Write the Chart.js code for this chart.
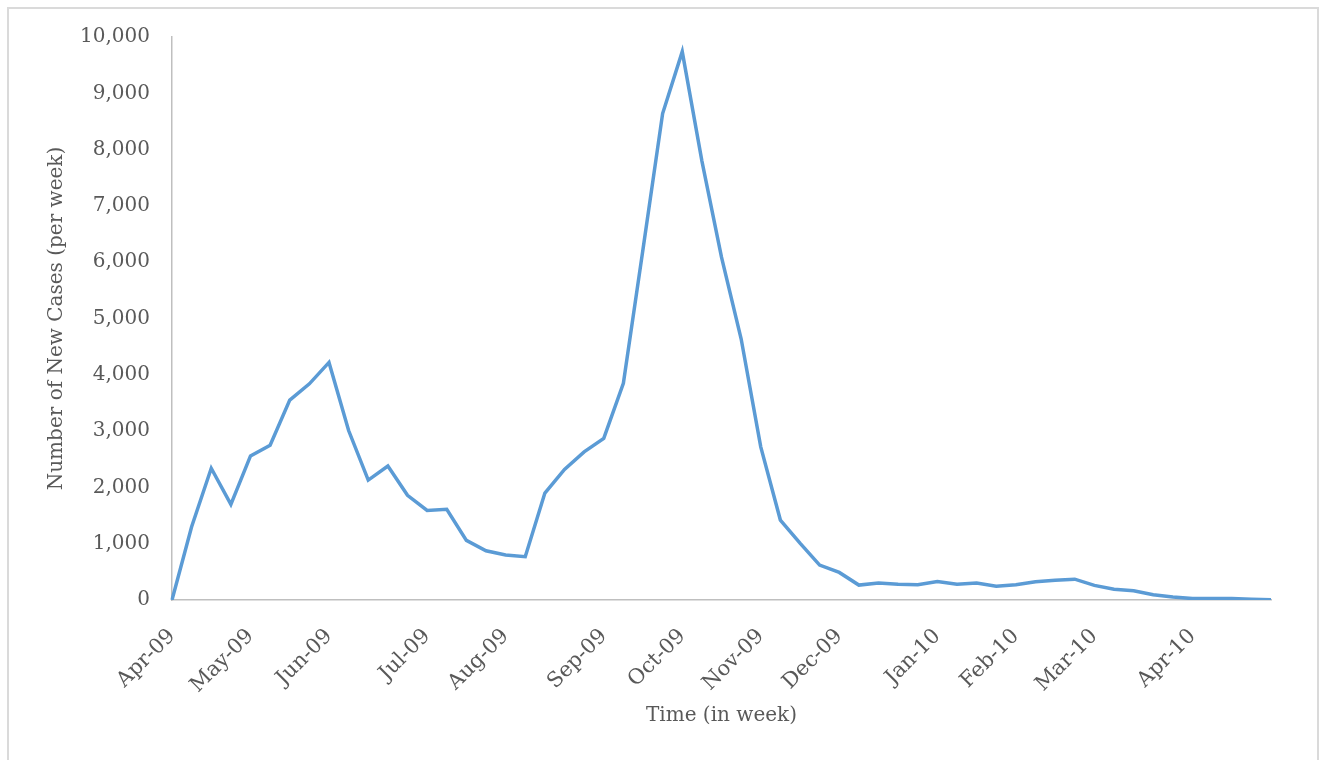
<!DOCTYPE html>
<html>
<head>
<meta charset="utf-8">
<script src="https://cdn.jsdelivr.net/npm/chart.js@4.4.1/dist/chart.umd.min.js"></script>
<style>
    html, body { margin: 0; padding: 0; background: #fff; overflow: hidden; }
    #frame {
        position: absolute; left: 7px; top: 7px;
        width: 1312px; height: 800px;
        box-sizing: border-box;
        border: 2px solid #dadada;
    }
    #wrap { position: absolute; left: 0; top: 0; width: 1321px; height: 760px; }
</style>
</head>
<body>
<div id="frame"></div>
<div id="wrap"><canvas id="chart"></canvas></div>
<script>
// month tick labels and the week index where each one sits
const monthLabels = ['Apr-09', 'May-09', 'Jun-09', 'Jul-09', 'Aug-09', 'Sep-09', 'Oct-09',
    'Nov-09', 'Dec-09', 'Jan-10', 'Feb-10', 'Mar-10', 'Apr-10'];
const monthFirstWeek = [0, 4, 8, 13, 17, 22, 26, 30, 34, 39, 43, 47, 52];

// new cases per week (57 weeks)
const newCases = [
    0, 1300, 2340, 1700, 2560, 2750, 3550, 3840, 4220, 3010,
    2130, 2380, 1860, 1590, 1610, 1060, 875, 800, 770, 1900,
    2320, 2630, 2870, 3850, 6230, 8640, 9740, 7800, 6090, 4640,
    2720, 1420, 1010, 620, 490, 265, 300, 280, 270, 330,
    280, 300, 245, 270, 325, 350, 370, 260, 190, 165,
    95, 55, 25, 25, 25, 15, 5
];

const yTicks = { min: 0, max: 10000, step: 1000 };

const weekLabels = newCases.map((v, i) => {
    const k = monthFirstWeek.indexOf(i);
    return k >= 0 ? monthLabels[k] : '';
});

const textColor = '#595959';
const axisColor = '#bfbfbf';
const font = { family: '"DejaVu Serif", serif', size: 20 };

new Chart(document.getElementById('chart'), {
    type: 'line',
    data: {
        labels: weekLabels,
        datasets: [{
            data: newCases,
            borderColor: '#5b9bd5',
            borderWidth: 3.5,
            pointRadius: 0,
            tension: 0,
            fill: false
        }]
    },
    options: {
        responsive: true,
        maintainAspectRatio: false,
        animation: false,
        layout: { padding: { left: 0, top: 37, right: 50, bottom: 0 } },
        plugins: { legend: { display: false }, tooltip: { enabled: false } },
        scales: {
            x: {
                type: 'category',
                offset: false,
                grid: { display: false, drawTicks: false },
                border: { display: true, color: axisColor, width: 1.5 },
                ticks: {
                    autoSkip: false,
                    minRotation: 45,
                    maxRotation: 45,
                    padding: 24,
                    color: textColor,
                    font: { family: font.family, size: 21 }
                },
                title: {
                    display: true,
                    text: 'Time (in week)',
                    color: textColor,
                    font: font,
                    padding: { top: 0, bottom: 32 }
                },
                afterFit(scale) { scale.height = 160; }
            },
            y: {
                min: yTicks.min,
                max: yTicks.max,
                grid: { display: false, drawTicks: false },
                border: { display: true, color: axisColor, width: 1.5 },
                ticks: {
                    stepSize: yTicks.step,
                    padding: 22,
                    color: textColor,
                    font: font,
                    callback: v => v.toLocaleString('en-US')
                },
                title: {
                    display: true,
                    text: 'Number of New Cases (per week)',
                    color: textColor,
                    font: font,
                    padding: { top: 45, bottom: 0 }
                },
                afterFit(scale) { scale.width = 172; }
            }
        }
    }
});
</script>
</body>
</html>
